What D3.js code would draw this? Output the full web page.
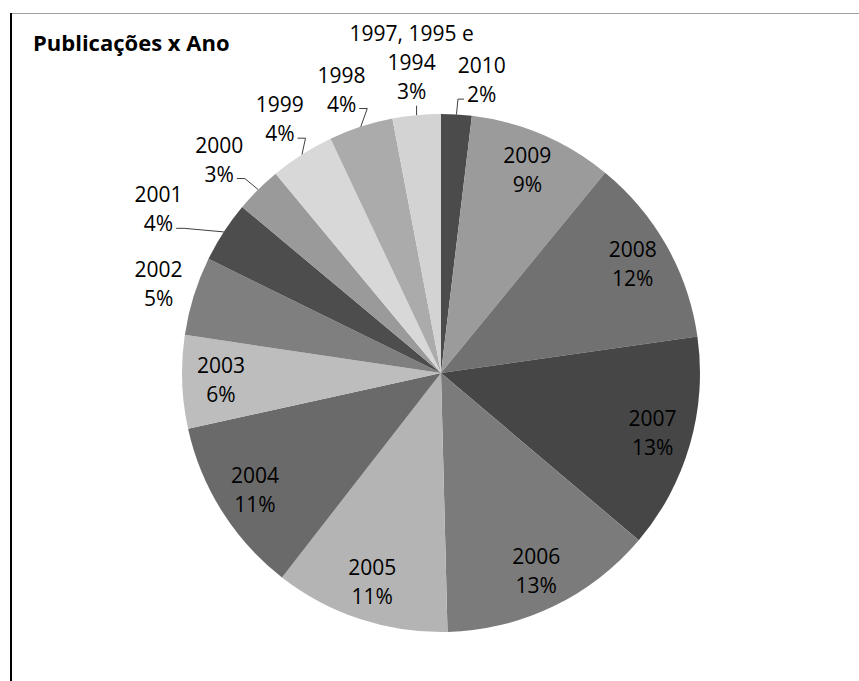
<!DOCTYPE html>
<html>
<head>
<meta charset="utf-8">
<script src="https://cdn.jsdelivr.net/npm/d3@7"></script>
<style>
  body { margin: 0; background: #fff; }
  svg { display: block; font-family: "Open Sans", sans-serif; }
</style>
</head>
<body>
<div id="chart"></div>
<script>
// slices, clockwise from 12 o'clock
const years = ["2010", "2009", "2008", "2007", "2006", "2005", "2004", "2003",
               "2002", "2001", "2000", "1999", "1998", "1997, 1995 e 1994"];
// share of publications (%)
const shares = [1.9, 9.0, 11.8, 13.4, 13.4, 10.9, 11.0, 5.8, 4.9, 3.8, 2.9, 4.0, 4.0, 3.0];
// slice fills
const grays = ["#4b4b4b", "#9b9b9b", "#717171", "#464646", "#7b7b7b", "#b4b4b4", "#6a6a6a",
               "#bdbdbd", "#7f7f7f", "#4d4d4d", "#9a9a9a", "#d8d8d8", "#ababab", "#d3d3d3"];

const width = 859, height = 681;
const cx = 441, cy = 373, radius = 259;
const fontSize = 21, lineH = 29;

const svg = d3.select("#chart")
  .append("svg")
    .attr("width", width)
    .attr("height", height);

// chart frame (only top and left edges show)
svg.append("line")
  .attr("x1", 10).attr("x2", width)
  .attr("y1", 13.5).attr("y2", 13.5)
  .attr("stroke", "#a0a0a0");
svg.append("line")
  .attr("x1", 11).attr("x2", 11)
  .attr("y1", 13).attr("y2", height)
  .attr("stroke", "#000").attr("stroke-width", 2);

// title
svg.append("text")
  .attr("x", 33).attr("y", 51)
  .text("Publicações x Ano")
  .style("font-weight", "bold")
  .style("font-size", "22px")
  .attr("fill", "#000");

const data = years.map((y, i) => ({year: y, value: shares[i], color: grays[i]}));
const total = d3.sum(shares);

const pie = d3.pie().sort(null).value(d => d.value);
const arcs = pie(data);
const arc = d3.arc().innerRadius(0).outerRadius(radius);

const g = svg.append("g").attr("transform", `translate(${cx}, ${cy})`);

g.selectAll("path.slice")
  .data(arcs)
  .join("path")
    .attr("class", "slice")
    .attr("d", arc)
    .attr("fill", d => d.data.color);

// helper to measure text
const meas = svg.append("text").style("font-size", fontSize + "px").attr("visibility", "hidden");
function textW(s) { meas.text(s); return meas.node().getComputedTextLength(); }

// wrap a label into lines no wider than maxW
function wrap(s, maxW) {
  const words = s.split(" ");
  const lines = [];
  let cur = "";
  words.forEach(w => {
    const t = cur ? cur + " " + w : w;
    if (cur && textW(t) > maxW) { lines.push(cur); cur = w; } else cur = t;
  });
  lines.push(cur);
  return lines;
}

// build label layout
const labels = arcs.map(d => {
  const pct = Math.round(d.data.value / total * 100) + "%";
  const lines = wrap(d.data.year, 130).concat([pct]);
  const widths = lines.map(textW);
  const w = d3.max(widths);
  const h = (lines.length - 1) * lineH + 24;
  const mid = (d.startAngle + d.endAngle) / 2;
  const ux = Math.sin(mid), uy = -Math.cos(mid);
  const inside = d.data.value >= 5;
  let dist;
  if (inside) dist = radius * 0.85;
  else dist = radius + 6 + Math.abs(ux) * w / 2 + Math.abs(uy) * h / 2;
  return {d, lines, widths, w, h, mid, ux, uy, inside, x: ux * dist, y: uy * dist};
});

// line boxes of a label
function boxes(l) {
  const top = l.y - (l.lines.length - 1) * lineH / 2;
  return l.lines.map((s, i) => ({
    x0: l.x - l.widths[i] / 2, x1: l.x + l.widths[i] / 2,
    y0: top + i * lineH - 12, y1: top + i * lineH + 12
  }));
}

// push outside labels apart sideways when they collide
const outside = labels.filter(l => !l.inside);
for (let k = 0; k < 3; k++) {
  outside.forEach(a => outside.forEach(b => {
    if (a === b || a.x > b.x) return;
    let shift = 0;
    boxes(a).forEach(p => boxes(b).forEach(q => {
      if (p.y0 < q.y1 && q.y0 < p.y1 && p.x1 + 22 > q.x0) shift = Math.max(shift, p.x1 + 22 - q.x0);
    }));
    if (shift > 0) {
      if (b.x > 0) b.x += shift; else a.x -= shift;
    }
  }));
}

const lab = g.selectAll("text.lbl")
  .data(labels)
  .join("text")
    .attr("class", "lbl")
    .attr("text-anchor", "middle")
    .style("font-size", fontSize + "px")
    .attr("fill", "#000");

lab.each(function(l) {
  const top = l.y - (l.lines.length - 1) * lineH / 2;
  d3.select(this).selectAll("tspan")
    .data(l.lines)
    .join("tspan")
      .attr("x", l.x)
      .attr("y", (s, i) => top + i * lineH + 7)
      .text(s => s);
});

// leader lines for outside labels that sit away from their slice
outside.forEach(l => {
  const px = l.ux * radius, py = l.uy * radius;
  const bx = boxes(l);
  const last = bx[bx.length - 1];
  let pts, minLen;
  if (last.x1 + 2 < px) {
    const q = [last.x1 + 3, (last.y0 + last.y1) / 2 + 4];
    pts = [q, [q[0] + 8, q[1]], [px, py]];
    minLen = 16;
  } else if (last.x0 - 2 > px) {
    const q = [last.x0 - 3, (last.y0 + last.y1) / 2 + 4];
    pts = [q, [q[0] - 6, q[1]], [px, py]];
    minLen = 6;
  } else {
    pts = [[px, last.y1 + 2], [px, py]];
    minLen = 4;
  }
  const e = pts[pts.length - 2];
  if (Math.hypot(e[0] - px, e[1] - py) < minLen) return;
  g.append("path")
    .attr("d", d3.line()(pts))
    .attr("fill", "none")
    .attr("stroke", "#404040")
    .attr("stroke-width", 1);
});
</script>
</body>
</html>
